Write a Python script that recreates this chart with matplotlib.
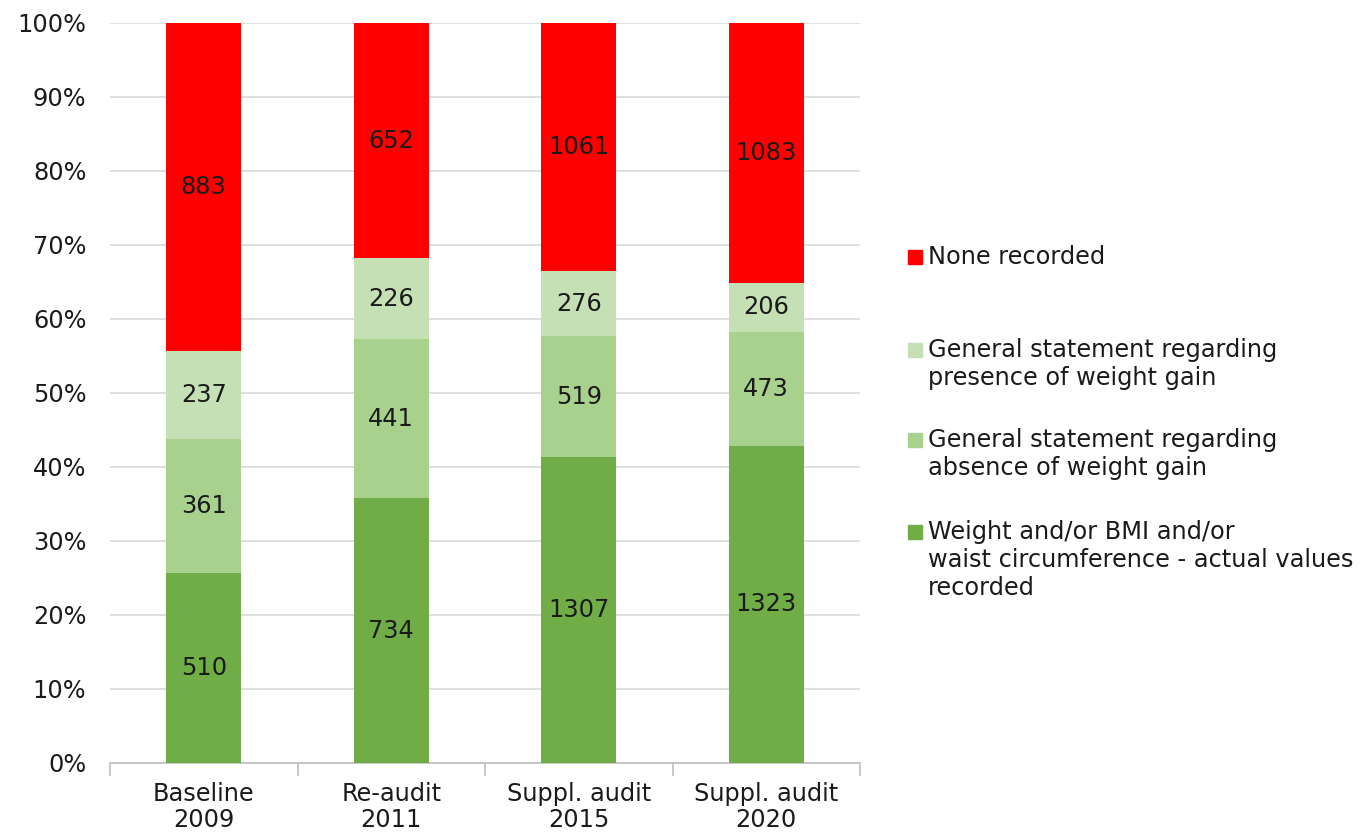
import matplotlib
matplotlib.use("Agg")
import matplotlib.pyplot as plt
from matplotlib.patches import Rectangle
import numpy as np

categories = ["Baseline\n2009", "Re-audit\n2011", "Suppl. audit\n2015", "Suppl. audit\n2020"]
actual_values = [510, 734, 1307, 1323]
absence_statement = [361, 441, 519, 473]
presence_statement = [237, 226, 276, 206]
none_recorded = [883, 652, 1061, 1083]

series_names = [
    "Weight and/or BMI and/or\nwaist circumference - actual values\nrecorded",
    "General statement regarding\nabsence of weight gain",
    "General statement regarding\npresence of weight gain",
    "None recorded",
]
series = [actual_values, absence_statement, presence_statement, none_recorded]
colors = ["#70AD47", "#A9D18E", "#C5E0B4", "#FF0000"]

plt.rcParams['font.family'] = ['DejaVu Sans']
FS = 17.3
TXT = "#1a1a1a"

fig = plt.figure(figsize=(13.61, 8.34), dpi=100)
ax = fig.add_axes([110/1361, 1-763/834, 750/1361, 740/834])

data = np.array(series, dtype=float)
totals = data.sum(axis=0)
pct = data / totals * 100
x = np.arange(len(categories))
bottom = np.zeros(len(categories))
for i in range(len(series)):
    ax.bar(x, pct[i], bottom=bottom, width=0.4, color=colors[i], zorder=3)
    for j in range(len(categories)):
        ax.text(x[j], bottom[j] + pct[i][j] / 2, str(series[i][j]), ha="center", va="center",
                fontsize=FS, color=TXT, zorder=4)
    bottom += pct[i]

ax.set_xlim(-0.5, len(categories) - 0.5)
ax.set_ylim(0, 100)
ax.set_yticks(np.arange(0, 101, 10))
ax.set_yticklabels([f"{v}%" for v in range(0, 101, 10)], fontsize=FS, color=TXT)
ax.yaxis.grid(True, color="#D9D9D9", linewidth=1.2, zorder=0)
ax.tick_params(axis="y", length=0, pad=17)
ax.set_xticks(x)
ax.set_xticklabels(categories, fontsize=FS, color=TXT, linespacing=1.08)
ax.tick_params(axis="x", which="major", length=0, pad=14)
ax.set_xticks(np.arange(-0.5, len(categories), 1.0), minor=True)
ax.tick_params(axis="x", which="minor", length=9, color="#BFBFBF", width=1.2)
for s in ["left", "right", "top"]:
    ax.spines[s].set_visible(False)
ax.spines["bottom"].set_color("#BFBFBF")
ax.spines["bottom"].set_linewidth(1.2)

# legend (manual layout to match reference spacing)
legend_order = [3, 2, 1, 0]
legend_y = [257, 350, 440, 532]
for k, yy in zip(legend_order, legend_y):
    fig.patches.append(Rectangle((908/1361, 1-(yy+7)/834), 14/1361, 14/834,
                                 transform=fig.transFigure, color=colors[k]))
    fig.text(928/1361, 1-(yy-12)/834, series_names[k], fontsize=FS, color=TXT,
             va="top", ha="left", linespacing=1.22)

fig.savefig("out.png", dpi=100)
